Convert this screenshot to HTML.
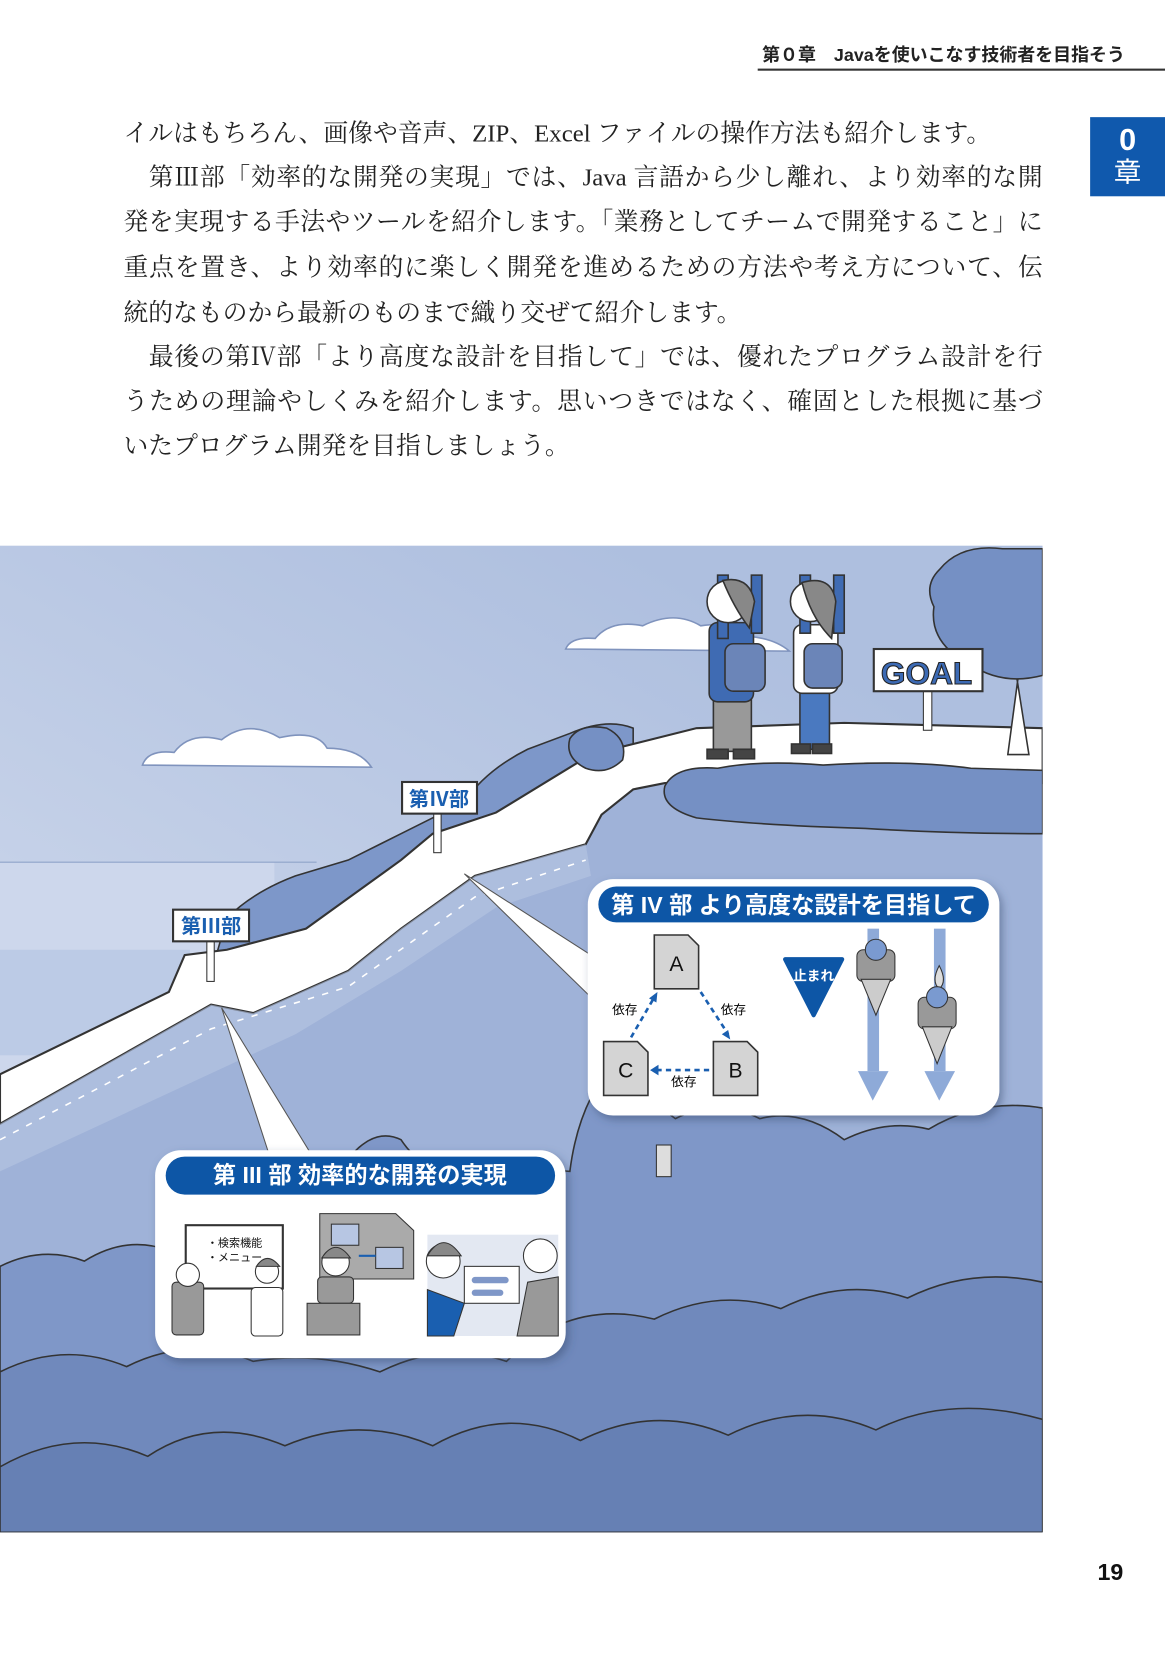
<!DOCTYPE html>
<html><head><meta charset="utf-8">
<style>
html,body{margin:0;padding:0;background:#fff;}
body{width:1165px;height:1654px;overflow:hidden;position:relative;}
#pg{position:absolute;left:0;top:0;width:1104px;height:1568px;transform:scale(1.0553);transform-origin:0 0;}
.hd{position:absolute;right:38px;top:38px;font:bold 17px "Liberation Sans","Noto Sans CJK JP",sans-serif;color:#222;white-space:nowrap;}
.hl{position:absolute;left:718px;top:65px;width:386px;height:2px;background:#333;}
.tab{position:absolute;left:1033px;top:111px;width:71px;height:75px;background:#1059ad;color:#fff;text-align:center;font-family:"Liberation Sans","Noto Sans CJK JP",sans-serif;}
.ln{position:absolute;left:117px;width:871px;height:42px;line-height:42px;font:23.5px "Liberation Serif","Noto Serif CJK SC",serif;color:#222;white-space:nowrap;text-align:justify;text-align-last:justify;}
.nj{text-align-last:left;}
svg text{font-family:"Liberation Sans","Noto Sans CJK JP",sans-serif;}
</style></head><body>
<div id="pg">
<div class="hd">第０章　Javaを使いこなす技術者を目指そう</div>
<div class="hl"></div>
<div class="tab"><div style="font-size:29px;font-weight:bold;line-height:30px;margin-top:7px">0</div><div style="font-size:26px;line-height:30px">章</div></div>

<div class="ln nj" style="top:107px">イルはもちろん、画像や音声、ZIP、Excel ファイルの操作方法も紹介します。</div>
<div class="ln" style="top:149px;left:141px;width:847px">第Ⅲ部「効率的な開発の実現」では、Java 言語から少し離れ、より効率的な開</div>
<div class="ln" style="top:191px">発を実現する手法やツールを紹介します。「業務としてチームで開発すること」に</div>
<div class="ln" style="top:234px">重点を置き、より効率的に楽しく開発を進めるための方法や考え方について、伝</div>
<div class="ln nj" style="top:277px">統的なものから最新のものまで織り交ぜて紹介します。</div>
<div class="ln" style="top:319px;left:141px;width:847px">最後の第Ⅳ部「より高度な設計を目指して」では、優れたプログラム設計を行</div>
<div class="ln" style="top:361px">うための理論やしくみを紹介します。思いつきではなく、確固とした根拠に基づ</div>
<div class="ln nj" style="top:403px">いたプログラム開発を目指しましょう。</div>

<svg style="position:absolute;left:0;top:0" width="1104" height="1568" viewBox="0 0 1104 1568">
<defs>
<linearGradient id="sky" x1="0" y1="1" x2="0.6" y2="0"><stop offset="0" stop-color="#eef1f8"/><stop offset="0.5" stop-color="#c5d1e8"/><stop offset="1" stop-color="#aebfdf"/></linearGradient>
<filter id="sh" x="-10%" y="-10%" width="130%" height="130%"><feDropShadow dx="3" dy="4" stdDeviation="4" flood-color="#34496e" flood-opacity="0.5"/></filter>
<clipPath id="ill"><rect x="0" y="517" width="988" height="935"/></clipPath>
</defs>
<g clip-path="url(#ill)">
<rect x="0" y="517" width="988" height="935" fill="url(#sky)"/>
<rect x="0" y="817" width="260" height="200" fill="#cdd7ec"/>
<line x1="0" y1="817" x2="300" y2="817" stroke="#8fa3c9" stroke-width="1"/>
<rect x="0" y="900" width="180" height="100" fill="#bccbe6"/>
<path d="M135,725 q5,-15 30,-12 q15,-20 45,-12 q25,-20 55,-2 q35,-8 45,10 q30,0 42,18 z" fill="#fff" stroke="#7f93bd" stroke-width="1.5"/>
<path d="M536,615 q5,-12 28,-10 q15,-18 45,-12 q30,-15 55,0 q35,-5 45,10 q25,2 39,14 z" fill="#fff" stroke="#7f93bd" stroke-width="1.5"/>
<path d="M0,1018 L160,940 L215,900 L290,880 L380,815 L470,770 L560,715 L660,690 L988,690 L988,1452 L0,1452 Z" fill="#9fb2d8"/>
<path d="M205,905 L215,870 Q240,845 280,830 L330,815 Q360,800 380,790 L440,760 Q460,730 500,710 L540,695 Q575,680 600,690 L600,705 L560,715 L470,770 L410,790 L380,815 L290,880 Z" fill="#7d97c9" stroke="#333" stroke-width="1.5"/>
<path d="M0,1018 L160,940 L175,905 L215,900 L290,880 L380,815 L410,790 L470,770 L560,715 L600,705 L660,690 L800,685 L988,690 L988,742 L630,742 L600,748 L570,772 L555,800 L520,810 L450,830 L380,880 L330,920 L240,960 L200,952 L0,1065 Z" fill="#fff" stroke="#333" stroke-width="2"/>
<path d="M0,1065 L200,952 L240,960 L330,920 L380,880 L450,830 L520,810 L555,800 L560,830 L470,860 L380,920 L280,980 L0,1110 Z" fill="#b7c6e3" opacity="0.6"/>
<path d="M0,1080 L200,975 L330,935 L450,850 L555,815" fill="none" stroke="#fff" stroke-width="1.5" stroke-dasharray="6,8"/>
<path d="M630,745 Q640,725 680,728 Q720,720 780,725 Q860,720 920,728 L988,730 L988,790 Q900,790 820,785 Q720,782 660,775 Q625,765 630,745 Z" fill="#7590c4" stroke="#333" stroke-width="1.5"/>
<path d="M540,700 Q550,685 575,690 Q595,700 590,720 Q575,735 555,728 Q535,718 540,700 Z" fill="#7590c4" stroke="#333" stroke-width="1.5"/>
<path d="M960,620 L975,715 L955,715 L965,640 Z" fill="#fff" stroke="#333" stroke-width="1.5"/>
<path d="M890,540 Q910,515 950,520 L988,520 L988,640 Q950,650 920,630 Q880,610 885,575 Q875,555 890,540 Z" fill="#7590c4" stroke="#333" stroke-width="1.5"/>
<path d="M0,1200 Q40,1180 80,1195 Q120,1170 160,1185 Q200,1170 250,1185 L300,1150 Q340,1060 380,1080 Q400,1110 420,1100 L540,1110 Q545,1070 560,1040 Q600,1030 640,1060 Q680,1040 720,1060 Q760,1050 800,1080 Q840,1060 880,1070 Q930,1040 988,1050 L988,1452 L0,1452 Z" fill="#7f97c8" stroke="#333" stroke-width="1.5"/>
<path d="M0,1300 Q60,1270 120,1295 Q180,1265 240,1290 Q300,1280 360,1300 Q420,1270 480,1290 Q540,1230 620,1250 Q680,1220 740,1240 Q800,1210 860,1230 Q920,1200 988,1215 L988,1452 L0,1452 Z" fill="#7089bc" stroke="#333" stroke-width="1.5"/>
<path d="M0,1390 Q70,1350 140,1380 Q200,1340 270,1370 Q340,1340 410,1370 Q480,1330 550,1365 Q620,1330 690,1360 Q760,1325 830,1355 Q900,1320 988,1345 L988,1452 L0,1452 Z" fill="#6680b4" stroke="#333" stroke-width="1.5"/>
<rect x="622" y="1085" width="14" height="30" fill="#ddd" stroke="#333"/>
<rect x="411" y="768" width="7" height="40" fill="#fff" stroke="#333"/>
<rect x="381" y="741" width="71" height="30" fill="#fff" stroke="#333" stroke-width="2"/>
<text x="416" y="764" font-size="19" font-weight="bold" fill="#1a5fb0" text-anchor="middle">第Ⅳ部</text>
<rect x="196" y="890" width="7" height="40" fill="#fff" stroke="#333"/>
<rect x="164" y="862" width="72" height="30" fill="#fff" stroke="#333" stroke-width="2"/>
<text x="200" y="884" font-size="19" font-weight="bold" fill="#1a5fb0" text-anchor="middle">第Ⅲ部</text>
<rect x="875" y="652" width="8" height="40" fill="#fff" stroke="#333"/>
<rect x="828" y="615" width="103" height="40" fill="#fff" stroke="#333" stroke-width="2"/>
<text x="878" y="648" font-size="30" font-weight="bold" fill="#3c6ab4" stroke="#222" stroke-width="1" text-anchor="middle">GOAL</text>
<g stroke="#333" stroke-width="1.5">
<rect x="676" y="662" width="36" height="50" fill="#999"/>
<rect x="670" y="710" width="20" height="9" fill="#444"/><rect x="695" y="710" width="20" height="9" fill="#444"/>
<rect x="672" y="590" width="42" height="75" rx="8" fill="#3f6bb3"/>
<rect x="680" y="545" width="10" height="60" fill="#3f6bb3"/><rect x="712" y="545" width="10" height="55" fill="#3f6bb3"/>
<circle cx="690" cy="570" r="20" fill="#fff"/><path d="M685,550 q25,-5 30,20 l-5,25 q-15,-20 -25,-45z" fill="#888"/>
<rect x="687" y="610" width="38" height="45" rx="8" fill="#6b85b8"/>
<rect x="758" y="650" width="28" height="60" fill="#4a79c0"/>
<rect x="750" y="705" width="18" height="9" fill="#444"/><rect x="770" y="705" width="18" height="9" fill="#444"/>
<rect x="752" y="592" width="42" height="65" rx="8" fill="#fff"/>
<rect x="758" y="545" width="10" height="55" fill="#3f6bb3"/><rect x="790" y="545" width="10" height="55" fill="#3f6bb3"/>
<circle cx="768" cy="570" r="19" fill="#fff"/><path d="M760,552 q28,-8 32,18 l-4,35 q-20,-20 -28,-53z" fill="#888"/>
<rect x="762" y="610" width="36" height="42" rx="8" fill="#6b85b8"/>
</g>
<path d="M440,828 L560,905 L560,945 Z" fill="#fff" stroke="#555" stroke-width="1"/>
<path d="M210,955 L255,1094 L295,1094 Z" fill="#fff" stroke="#555" stroke-width="1"/>
</g>

<rect x="557" y="833" width="390" height="224" rx="24" fill="#fff" filter="url(#sh)"/>
<rect x="567" y="840" width="370" height="34" rx="17" fill="#0d56a6"/>
<text x="752" y="865" font-size="22" font-weight="bold" fill="#fff" text-anchor="middle">第 IV 部 より高度な設計を目指して</text>
<g stroke="#333" stroke-width="1.5" fill="#d4d4d4">
<path d="M620,886 L652,886 L662,896 L662,937 L620,937 Z"/>
<path d="M676,987 L708,987 L718,997 L718,1038 L676,1038 Z"/>
<path d="M572,987 L604,987 L614,997 L614,1038 L572,1038 Z"/>
</g>
<text x="641" y="920" font-size="20" text-anchor="middle" fill="#111">A</text>
<text x="697" y="1021" font-size="20" text-anchor="middle" fill="#111">B</text>
<text x="593" y="1021" font-size="20" text-anchor="middle" fill="#111">C</text>
<g stroke="#1a5fb0" stroke-width="2.5" stroke-dasharray="5,4" fill="none">
<line x1="598" y1="983" x2="620" y2="945"/><line x1="664" y1="940" x2="690" y2="980"/><line x1="672" y1="1014" x2="622" y2="1014"/>
</g>
<g fill="#1a5fb0"><path d="M623,940 l-1,10 l-7,-4z"/><path d="M692,985 l-8,-5 l6,-4z"/><path d="M616,1014 l8,-5 v10z"/></g>
<text x="592" y="961" font-size="12" text-anchor="middle">依存</text>
<text x="695" y="961" font-size="12" text-anchor="middle">依存</text>
<text x="648" y="1029" font-size="12" text-anchor="middle">依存</text>
<path d="M744,909 L798,909 L771,962 Z" fill="#0d56a6" stroke="#0d56a6" stroke-width="4" stroke-linejoin="round"/>
<text x="771" y="929" font-size="13" font-weight="bold" fill="#fff" text-anchor="middle">止まれ</text>
<g fill="#8eaad8">
<rect x="822" y="880" width="11" height="135"/><path d="M813,1015 L842,1015 L827,1043Z"/>
<rect x="885" y="880" width="11" height="135"/><path d="M876,1015 L905,1015 L890,1043Z"/>
</g>
<g stroke="#333" stroke-width="1">
<rect x="812" y="900" width="36" height="30" rx="6" fill="#999"/><path d="M816,928 L844,928 L830,962Z" fill="#ccc"/><circle cx="830" cy="900" r="10" fill="#7a9ad0"/>
<path d="M890,915 q-8,15 0,22 q8,-7 0,-22z" fill="#ddd"/>
<rect x="870" y="945" width="36" height="30" rx="6" fill="#999"/><path d="M874,973 L902,973 L888,1008Z" fill="#ccc"/><circle cx="888" cy="945" r="10" fill="#7a9ad0"/>
</g>

<rect x="147" y="1090" width="389" height="197" rx="24" fill="#fff" filter="url(#sh)"/>
<rect x="157" y="1096" width="369" height="36" rx="18" fill="#0d56a6"/>
<text x="341" y="1121" font-size="22" font-weight="bold" fill="#fff" text-anchor="middle">第 III 部 効率的な開発の実現</text>
<rect x="176" y="1161" width="92" height="60" fill="#fff" stroke="#333" stroke-width="2"/>
<text x="196" y="1181" font-size="10.5" fill="#111">・検索機能</text>
<text x="196" y="1195" font-size="10.5" fill="#111">・メニュー</text>
<g stroke="#333" stroke-width="1">
<rect x="163" y="1215" width="30" height="50" rx="4" fill="#999"/><circle cx="178" cy="1208" r="11" fill="#fff"/>
<rect x="238" y="1220" width="30" height="46" rx="4" fill="#fff"/><circle cx="253" cy="1205" r="11" fill="#fff"/><path d="M243,1200 q10,-15 22,0z" fill="#888"/>
<path d="M303,1150 L375,1150 L392,1166 L392,1212 L303,1212Z" fill="#aaa"/>
<rect x="314" y="1160" width="26" height="20" fill="#b7c6e3"/><rect x="356" y="1182" width="26" height="20" fill="#b7c6e3"/>
<line x1="340" y1="1190" x2="356" y2="1190" stroke="#1a5fb0" stroke-width="2"/>
<rect x="301" y="1210" width="34" height="25" rx="4" fill="#999"/><circle cx="318" cy="1196" r="13" fill="#fff"/><path d="M305,1192 q13,-20 27,0z" fill="#888"/>
<rect x="291" y="1235" width="50" height="30" fill="#999"/>
<rect x="405" y="1170" width="124" height="96" fill="#e3e8f2" stroke="none"/>
<rect x="440" y="1200" width="52" height="35" fill="#fff"/><rect x="447" y="1210" width="35" height="6" rx="3" fill="#7f97c8" stroke="none"/><rect x="447" y="1222" width="30" height="6" rx="3" fill="#7f97c8" stroke="none"/>
<path d="M405,1222 L440,1235 L430,1266 L405,1266Z" fill="#1a5fb0"/><circle cx="420" cy="1195" r="16" fill="#fff"/><path d="M405,1190 q15,-25 32,0z" fill="#888"/>
<path d="M500,1215 L529,1210 L529,1266 L490,1266Z" fill="#999"/><circle cx="512" cy="1190" r="16" fill="#fff"/>
</g>
</svg>
<div style="position:absolute;left:1040px;top:1477px;font:bold 22px 'Liberation Sans',sans-serif;color:#111">19</div>
</div>
</body></html>
